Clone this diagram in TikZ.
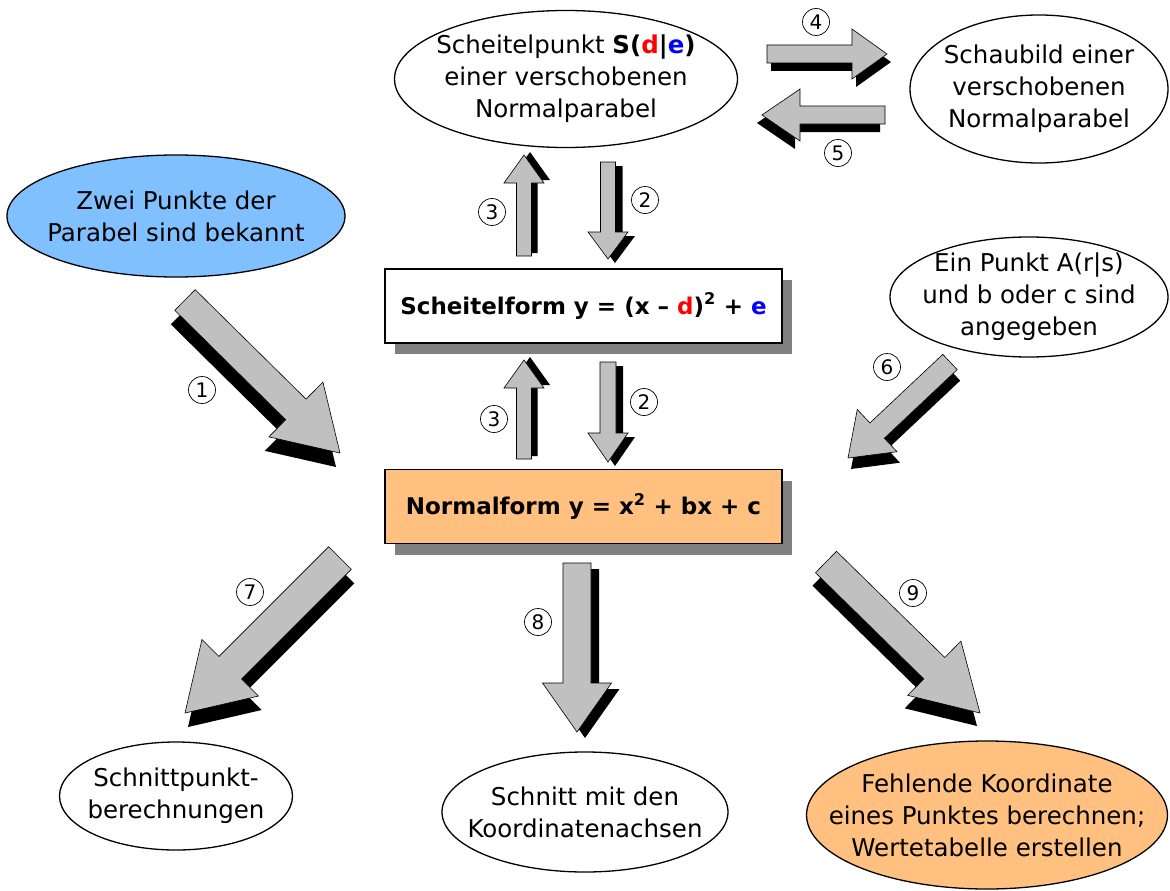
\documentclass[tikz,border=0pt]{standalone}
\usepackage{fontspec}
\setmainfont{DejaVu Sans}
\usepackage{xcolor}
\usetikzlibrary{calc, positioning, shapes.geometric, shadows}

\definecolor{hellblau}{HTML}{80C0FF}
\definecolor{hellorange}{HTML}{FFC080}
\definecolor{pfeilgrau}{HTML}{C0C0C0}
\definecolor{schattengrau}{HTML}{808080}

% Umriss eines Blockpfeils: Anfang, Spitze, Kopfbasis, halbe Schaftbreite, halbe Kopfbreite
\newcommand{\pfeilform}[5]{($(#1)!#4!90:(#2)$) -- ($(#3)!#4!90:(#2)$) -- ($(#3)!#5!90:(#2)$) -- (#2) -- ($(#3)!#5!-90:(#2)$) -- ($(#3)!#4!-90:(#2)$) -- ($(#1)!#4!-90:(#2)$) -- cycle}

% Blockpfeil mit schwarzem Schatten
\newcommand{\blockpfeil}[6]{%
	\coordinate (pk) at ($(#2)!#5!(#1)$);
	\coordinate (sa) at ($(#1)+(#6)$);
	\coordinate (sb) at ($(#2)+(#6)$);
	\coordinate (sk) at ($(sb)!#5!(sa)$);
	\fill[black] \pfeilform{sa}{sb}{sk}{#3}{#4};
	\filldraw[pfeil] \pfeilform{#1}{#2}{pk}{#3}{#4};
}

\begin{document}
\begin{tikzpicture}[
				x=1pt, y=-1pt,
				oval/.style={
					draw,
					ellipse,
					line width=1.3pt,
					align=center,
					inner xsep=-80pt,
					inner ysep=-30pt,
					font=\fontsize{24.5}{32}\selectfont
				},
				formbox/.style={
					draw,
					rectangle,
					line width=1.3pt,
					align=center,
					minimum width=397pt,
					minimum height=74pt,
					font=\fontsize{23}{28}\selectfont\bfseries,
					drop shadow={fill=schattengrau, opacity=1, shadow xshift=10pt, shadow yshift=-11pt}
				},
				zahl/.style={
					draw,
					circle,
					line width=0.7pt,
					minimum size=27pt,
					inner sep=0pt,
					font=\fontsize{20}{20}\selectfont
				},
				pfeil/.style={fill=pfeilgrau, draw=black, line width=0.6pt}
				]
				
				\useasboundingbox (0,0) rectangle (1170,891);
				
				% Mittlere Spalte
				\node[oval, minimum width=343pt, minimum height=137pt] (sp) at (566,79)
					{Scheitelpunkt \textbf{S(\textcolor{red}{d}|\textcolor{blue}{e})}\\einer verschobenen\\Normalparabel};
				\node[formbox, fill=white] (sf) at (583.5,306)
					{Scheitelform y = (x -- \textcolor{red}{d})\textsuperscript{2} + \textcolor{blue}{e}};
				\node[formbox, fill=hellorange] (nf) at (583.5,506.5)
					{Normalform y = x\textsuperscript{2} + bx + c};
				
				% Obere und seitliche Ovale
				\node[oval, minimum width=258pt, minimum height=148pt] (sb) at (1039,89)
					{Schaubild einer\\verschobenen\\Normalparabel};
				\node[oval, fill=hellblau, minimum width=338pt, minimum height=122pt] (zp) at (176,216)
					{Zwei Punkte der\\Parabel sind bekannt};
				\node[oval, minimum width=278pt, minimum height=120pt] (ap) at (1029,297)
					{Ein Punkt A(r|s)\\und b oder c sind\\angegeben};
				
				% Untere Ovale
				\node[oval, minimum width=233pt, minimum height=108pt] (sn) at (176,796)
					{Schnittpunkt-\\berechnungen};
				\node[oval, minimum width=286pt, minimum height=120pt] (ka) at (585,812)
					{Schnitt mit den\\Koordinatenachsen};
				\node[oval, fill=hellorange, minimum width=361pt, minimum height=148pt] (wt) at (987,815)
					{Fehlende Koordinate\\eines Punktes berechnen;\\Wertetabelle erstellen};
				
				% Pfeile
				\coordinate (p1a) at (185,300);  \coordinate (p1b) at (340,453);
				\coordinate (p2a) at (608,162);  \coordinate (p2b) at (608,259);
				\coordinate (p3a) at (524,256);  \coordinate (p3b) at (524,155);
				\coordinate (q2a) at (608,362);  \coordinate (q2b) at (608,462);
				\coordinate (q3a) at (524,459);  \coordinate (q3b) at (524,360);
				\coordinate (p4a) at (767,54);   \coordinate (p4b) at (887,54);
				\coordinate (p5a) at (885,115);  \coordinate (p5b) at (762,115);
				\coordinate (p6a) at (950,362);  \coordinate (p6b) at (848,458);
				\coordinate (p7a) at (340,558);  \coordinate (p7b) at (185,713);
				\coordinate (p8a) at (577,563);  \coordinate (p8b) at (577,732);
				\coordinate (p9a) at (826,562);  \coordinate (p9b) at (980,713);
				
				\blockpfeil{p1a}{p1b}{14.5pt}{38.5pt}{62pt}{-4,14}
				\blockpfeil{p2a}{p2b}{7.5pt}{20pt}{27pt}{7,4}
				\blockpfeil{p3a}{p3b}{7.5pt}{20pt}{28pt}{6,-3}
				\blockpfeil{q2a}{q2b}{8pt}{20pt}{29pt}{7,4}
				\blockpfeil{q3a}{q3b}{7.5pt}{20pt}{28pt}{6,-3}
				\blockpfeil{p4a}{p4b}{9pt}{25pt}{35pt}{4,8}
				\blockpfeil{p5a}{p5b}{9pt}{26pt}{38pt}{-5,8}
				\blockpfeil{p6a}{p6b}{10.5pt}{29pt}{40pt}{3,11}
				\blockpfeil{p7a}{p7b}{16pt}{40pt}{64pt}{3,14}
				\blockpfeil{p8a}{p8b}{14pt}{34.5pt}{49pt}{8,6}
				\blockpfeil{p9a}{p9b}{15pt}{38pt}{64pt}{-3,13}
				
				% Nummern
				\node[zahl] (n1) at (202,390) {1};
				\node[zahl] (n2o) at (645,200) {2};
				\node[zahl] (n3o) at (492,212) {3};
				\node[zahl] (n2u) at (644,402) {2};
				\node[zahl] (n3u) at (494,419) {3};
				\node[zahl] (n4) at (816,22) {4};
				\node[zahl] (n5) at (838,153) {5};
				\node[zahl] (n6) at (887,367) {6};
				\node[zahl] (n7) at (250,592) {7};
				\node[zahl] (n8) at (538,622) {8};
				\node[zahl] (n9) at (913,593) {9};
				
			\end{tikzpicture}
\end{document}
